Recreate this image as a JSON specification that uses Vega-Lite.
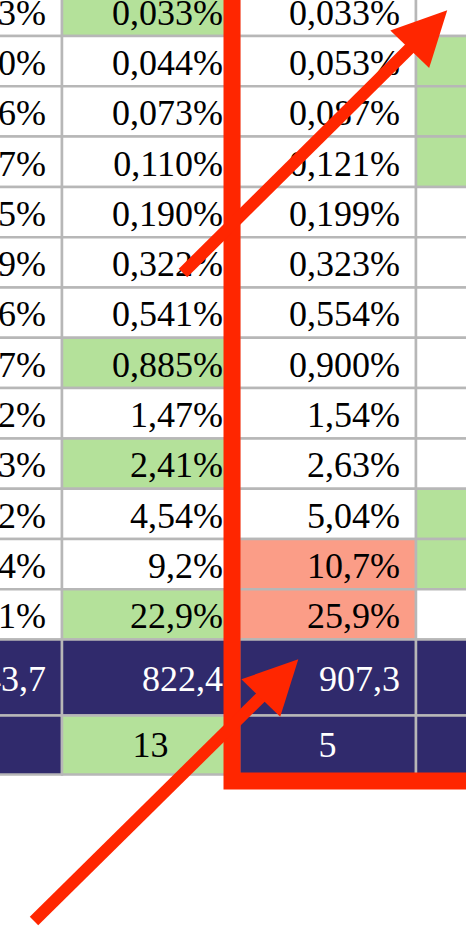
{
  "$schema": "https://vega.github.io/schema/vega-lite/v6.json",
  "width": 466,
  "height": 933,
  "autosize": {"type": "none"},
  "padding": 0,
  "background": "white",
  "config": {"view": {"stroke": null}},
  "datasets": {
    "cells": [
      {"c":0,"c2":1,"r":0,"r2":1,"f":"w","t":"0,023%","k":"pct"},
      {"c":0,"c2":1,"r":1,"r2":2,"f":"w","t":"0,040%","k":"pct"},
      {"c":0,"c2":1,"r":2,"r2":3,"f":"w","t":"0,066%","k":"pct"},
      {"c":0,"c2":1,"r":3,"r2":4,"f":"w","t":"0,097%","k":"pct"},
      {"c":0,"c2":1,"r":4,"r2":5,"f":"w","t":"0,165%","k":"pct"},
      {"c":0,"c2":1,"r":5,"r2":6,"f":"w","t":"0,289%","k":"pct"},
      {"c":0,"c2":1,"r":6,"r2":7,"f":"w","t":"0,486%","k":"pct"},
      {"c":0,"c2":1,"r":7,"r2":8,"f":"w","t":"0,797%","k":"pct"},
      {"c":0,"c2":1,"r":8,"r2":9,"f":"w","t":"1,32%","k":"pct"},
      {"c":0,"c2":1,"r":9,"r2":10,"f":"w","t":"2,23%","k":"pct"},
      {"c":0,"c2":1,"r":10,"r2":11,"f":"w","t":"4,12%","k":"pct"},
      {"c":0,"c2":1,"r":11,"r2":12,"f":"w","t":"8,4%","k":"pct"},
      {"c":0,"c2":1,"r":12,"r2":13,"f":"w","t":"20,1%","k":"pct"},
      {"c":0,"c2":1,"r":13,"r2":14.51,"f":"n","t":"743,7","k":"tot"},
      {"c":0,"c2":1,"r":14.51,"r2":15.68,"f":"n","t":"","k":"cnt"},

      {"c":1,"c2":2,"r":0,"r2":1,"f":"g","t":"0,033%","k":"pct"},
      {"c":1,"c2":2,"r":1,"r2":2,"f":"w","t":"0,044%","k":"pct"},
      {"c":1,"c2":2,"r":2,"r2":3,"f":"w","t":"0,073%","k":"pct"},
      {"c":1,"c2":2,"r":3,"r2":4,"f":"w","t":"0,110%","k":"pct"},
      {"c":1,"c2":2,"r":4,"r2":5,"f":"w","t":"0,190%","k":"pct"},
      {"c":1,"c2":2,"r":5,"r2":6,"f":"w","t":"0,322%","k":"pct"},
      {"c":1,"c2":2,"r":6,"r2":7,"f":"w","t":"0,541%","k":"pct"},
      {"c":1,"c2":2,"r":7,"r2":8,"f":"g","t":"0,885%","k":"pct"},
      {"c":1,"c2":2,"r":8,"r2":9,"f":"w","t":"1,47%","k":"pct"},
      {"c":1,"c2":2,"r":9,"r2":10,"f":"g","t":"2,41%","k":"pct"},
      {"c":1,"c2":2,"r":10,"r2":11,"f":"w","t":"4,54%","k":"pct"},
      {"c":1,"c2":2,"r":11,"r2":12,"f":"w","t":"9,2%","k":"pct"},
      {"c":1,"c2":2,"r":12,"r2":13,"f":"g","t":"22,9%","k":"pct"},
      {"c":1,"c2":2,"r":13,"r2":14.51,"f":"n","t":"822,4","k":"tot"},
      {"c":1,"c2":2,"r":14.51,"r2":15.68,"f":"g","t":"13","k":"cnt"},

      {"c":2,"c2":3,"r":0,"r2":1,"f":"w","t":"0,033%","k":"pct"},
      {"c":2,"c2":3,"r":1,"r2":2,"f":"w","t":"0,053%","k":"pct"},
      {"c":2,"c2":3,"r":2,"r2":3,"f":"w","t":"0,087%","k":"pct"},
      {"c":2,"c2":3,"r":3,"r2":4,"f":"w","t":"0,121%","k":"pct"},
      {"c":2,"c2":3,"r":4,"r2":5,"f":"w","t":"0,199%","k":"pct"},
      {"c":2,"c2":3,"r":5,"r2":6,"f":"w","t":"0,323%","k":"pct"},
      {"c":2,"c2":3,"r":6,"r2":7,"f":"w","t":"0,554%","k":"pct"},
      {"c":2,"c2":3,"r":7,"r2":8,"f":"w","t":"0,900%","k":"pct"},
      {"c":2,"c2":3,"r":8,"r2":9,"f":"w","t":"1,54%","k":"pct"},
      {"c":2,"c2":3,"r":9,"r2":10,"f":"w","t":"2,63%","k":"pct"},
      {"c":2,"c2":3,"r":10,"r2":11,"f":"w","t":"5,04%","k":"pct"},
      {"c":2,"c2":3,"r":11,"r2":12,"f":"s","t":"10,7%","k":"pct"},
      {"c":2,"c2":3,"r":12,"r2":13,"f":"s","t":"25,9%","k":"pct"},
      {"c":2,"c2":3,"r":13,"r2":14.51,"f":"n","t":"907,3","k":"tot"},
      {"c":2,"c2":3,"r":14.51,"r2":15.68,"f":"n","t":"5","k":"cnt"},

      {"c":3,"c2":4,"r":0,"r2":1,"f":"w","t":"0,031%","k":"pct"},
      {"c":3,"c2":4,"r":1,"r2":2,"f":"g","t":"0,040%","k":"pct"},
      {"c":3,"c2":4,"r":2,"r2":3,"f":"g","t":"0,065%","k":"pct"},
      {"c":3,"c2":4,"r":3,"r2":4,"f":"g","t":"0,098%","k":"pct"},
      {"c":3,"c2":4,"r":4,"r2":5,"f":"w","t":"0,172%","k":"pct"},
      {"c":3,"c2":4,"r":5,"r2":6,"f":"w","t":"0,298%","k":"pct"},
      {"c":3,"c2":4,"r":6,"r2":7,"f":"w","t":"0,502%","k":"pct"},
      {"c":3,"c2":4,"r":7,"r2":8,"f":"w","t":"0,823%","k":"pct"},
      {"c":3,"c2":4,"r":8,"r2":9,"f":"w","t":"1,39%","k":"pct"},
      {"c":3,"c2":4,"r":9,"r2":10,"f":"w","t":"2,30%","k":"pct"},
      {"c":3,"c2":4,"r":10,"r2":11,"f":"g","t":"4,41%","k":"pct"},
      {"c":3,"c2":4,"r":11,"r2":12,"f":"g","t":"8,9%","k":"pct"},
      {"c":3,"c2":4,"r":12,"r2":13,"f":"w","t":"23,6%","k":"pct"},
      {"c":3,"c2":4,"r":13,"r2":14.51,"f":"n","t":"801,2","k":"tot"},
      {"c":3,"c2":4,"r":14.51,"r2":15.68,"f":"n","t":"11","k":"cnt"}
    ],
    "frame": [
      {"x1": 1.9605, "x2": 4.5, "y1": -1, "y2": 15.811}
    ],
    "arrows": [
      {"a": 1, "o": 0, "x": 1.6836, "y": 5.712},
      {"a": 1, "o": 1, "x": 3.0706, "y": 0.8757},
      {"a": 2, "o": 0, "x": 0.8418, "y": 18.594},
      {"a": 2, "o": 1, "x": 2.2291, "y": 13.776}
    ]
  },
  "layer": [
    {
      "data": {"name": "cells"},
      "mark": {"type": "rect", "stroke": "#b7b7b7", "strokeWidth": 2.5, "clip": true},
      "encoding": {
        "x": {"field": "c", "type": "quantitative", "axis": null,
              "scale": {"domain": [0.6497, 3.2825], "nice": false, "zero": false}},
        "x2": {"field": "c2"},
        "y": {"field": "r", "type": "quantitative", "axis": null,
              "scale": {"domain": [0.2843, 18.833], "nice": false, "zero": false, "reverse": true}},
        "y2": {"field": "r2"},
        "fill": {"field": "f", "type": "nominal", "legend": null,
                 "scale": {"domain": ["w", "g", "s", "n"], "range": ["#ffffff", "#b4e19a", "#fb9d87", "#302a6c"]}}
      }
    },
    {
      "data": {"name": "cells"},
      "transform": [{"filter": "datum.k == 'pct'"}],
      "mark": {"type": "text", "font": "Liberation Serif", "fontSize": 36, "align": "right", "baseline": "alphabetic", "dx": -16, "dy": 39, "clip": true},
      "encoding": {
        "x": {"field": "c2", "type": "quantitative", "axis": null},
        "y": {"field": "r", "type": "quantitative", "axis": null},
        "text": {"field": "t"},
        "color": {"field": "f", "type": "nominal", "legend": null,
                  "scale": {"domain": ["w", "g", "s", "n"], "range": ["#000000", "#000000", "#000000", "#ffffff"]}}
      }
    },
    {
      "data": {"name": "cells"},
      "transform": [{"filter": "datum.k == 'tot'"}],
      "mark": {"type": "text", "font": "Liberation Serif", "fontSize": 36, "align": "right", "baseline": "alphabetic", "dx": -16, "dy": 51, "clip": true},
      "encoding": {
        "x": {"field": "c2", "type": "quantitative", "axis": null},
        "y": {"field": "r", "type": "quantitative", "axis": null},
        "text": {"field": "t"},
        "color": {"field": "f", "type": "nominal", "legend": null}
      }
    },
    {
      "data": {"name": "cells"},
      "transform": [{"filter": "datum.k == 'cnt'"}],
      "mark": {"type": "text", "font": "Liberation Serif", "fontSize": 36, "align": "center", "baseline": "alphabetic", "dx": -88.5, "dy": 41, "clip": true},
      "encoding": {
        "x": {"field": "c2", "type": "quantitative", "axis": null},
        "y": {"field": "r", "type": "quantitative", "axis": null},
        "text": {"field": "t"},
        "color": {"field": "f", "type": "nominal", "legend": null}
      }
    },
    {
      "data": {"name": "frame"},
      "mark": {"type": "rect", "fill": "transparent", "stroke": "#ff2600", "strokeWidth": 17, "strokeJoin": "miter", "clip": true},
      "encoding": {
        "x": {"field": "x1", "type": "quantitative", "axis": null},
        "x2": {"field": "x2"},
        "y": {"field": "y1", "type": "quantitative", "axis": null},
        "y2": {"field": "y2"}
      }
    },
    {
      "data": {"name": "arrows"},
      "mark": {"type": "line", "stroke": "#ff2600", "strokeWidth": 12, "strokeCap": "butt", "clip": true},
      "encoding": {
        "x": {"field": "x", "type": "quantitative", "axis": null},
        "y": {"field": "y", "type": "quantitative", "axis": null},
        "detail": {"field": "a", "type": "nominal"},
        "order": {"field": "o", "type": "quantitative"}
      }
    },
    {
      "data": {"name": "arrows"},
      "transform": [{"filter": "datum.o == 1"}],
      "mark": {"type": "point", "shape": "M0,-1L1,1L-1,1Z", "size": 2916, "angle": 44, "filled": true, "fill": "#ff2600", "opacity": 1, "strokeWidth": 0, "clip": true},
      "encoding": {
        "x": {"field": "x", "type": "quantitative", "axis": null},
        "y": {"field": "y", "type": "quantitative", "axis": null}
      }
    }
  ]
}
